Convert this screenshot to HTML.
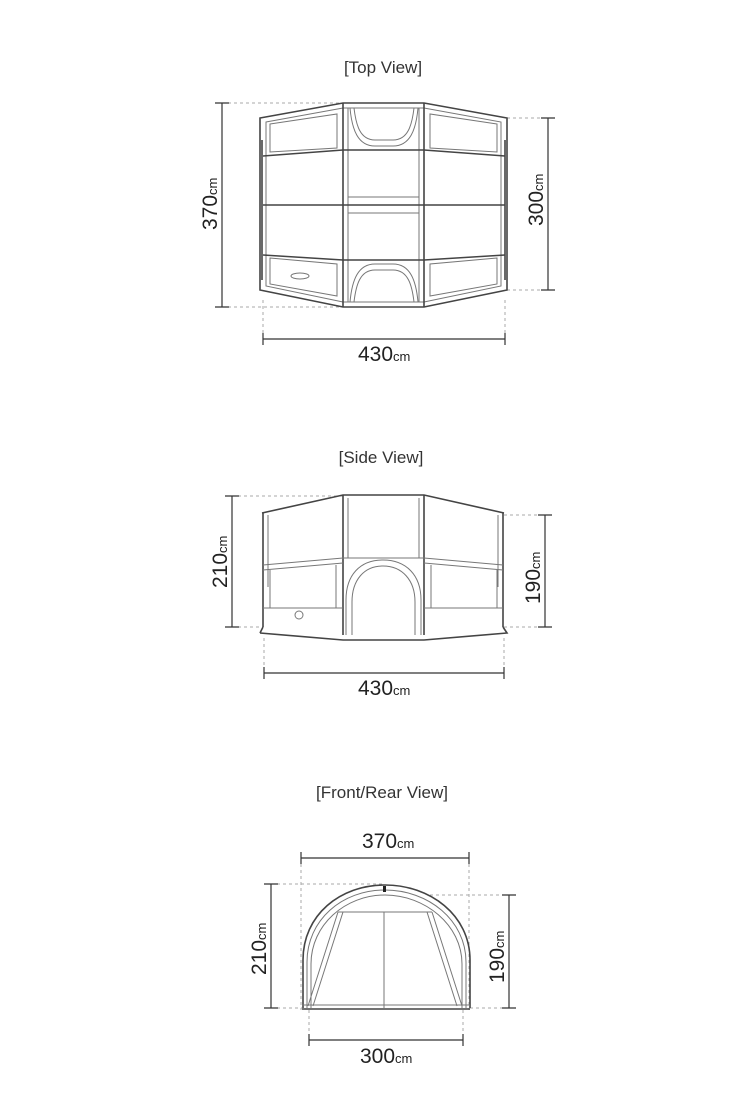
<!DOCTYPE html>
<html><head><meta charset="utf-8"><style>
html,body{margin:0;padding:0;background:#fff;}
svg{display:block}
text{font-family:"Liberation Sans",sans-serif;fill:#222}
.t{font-size:17px;fill:#333}
.n{font-size:21px}
.c{font-size:13px}
.d{stroke:#aaa;stroke-width:1;stroke-dasharray:3,3;fill:none}
.m{stroke:#333;stroke-width:1.2;fill:none}
.o{stroke:#444;stroke-width:1.6;fill:none}
.i{stroke:#777;stroke-width:1;fill:none}
</style></head><body>
<svg width="754" height="1100" viewBox="0 0 754 1100" xmlns="http://www.w3.org/2000/svg">
<!-- TOP VIEW -->
<text class="t" x="383" y="73" text-anchor="middle">[Top View]</text>
<line class="d" x1="222" y1="103" x2="343" y2="103"/>
<line class="d" x1="222" y1="307" x2="343" y2="307"/>
<line class="d" x1="507" y1="118" x2="555" y2="118"/>
<line class="d" x1="507" y1="290" x2="555" y2="290"/>
<line class="d" x1="263" y1="300" x2="263" y2="345"/>
<line class="d" x1="505" y1="300" x2="505" y2="345"/>
<path class="m" d="M215 103H229M222 103V307M215 307H229"/>
<path class="m" d="M541 118H555M548 118V290M541 290H555"/>
<path class="m" d="M263 333V345M263 339H505M505 333V345"/>
<text class="n" x="358" y="361">430<tspan class="c">cm</tspan></text>
<text class="n" transform="translate(217,230) rotate(-90)">370<tspan class="c">cm</tspan></text>
<text class="n" transform="translate(543,226) rotate(-90)">300<tspan class="c">cm</tspan></text>
<!-- tent top outline -->
<path class="o" d="M260 118 L343 103 H424 L507 118 V290 L424 307 H343 L260 290 Z"/>
<path class="i" d="M266 122 L343 108 H424 L501 122 V286 L424 302 H343 L266 286 Z"/>
<path class="o" d="M343 103V307M424 103V307"/>
<path class="i" d="M348 108V302M419 108V302"/>
<path class="o" d="M263 156 L343 150 H424 L505 156"/>
<path class="o" d="M263 205 H505"/>
<path class="o" d="M263 255 L343 260 H424 L505 255"/>
<path class="i" d="M348 197H419M348 213H419"/>
<path class="i" d="M270 124 L337 114 V148 L270 152 Z M497 124 L430 114 V148 L497 152 Z"/>
<path class="i" d="M270 258 L337 264 V296 L270 284 Z M497 258 L430 264 V296 L497 284 Z"/>
<path class="i" d="M354 108 C356 125 360 140 375 140 H393 C408 140 412 125 414 108"/>
<path class="i" d="M350 108 C352 130 358 146 375 146 H393 C410 146 416 130 418 108"/>
<path class="i" d="M354 302 C356 285 360 270 375 270 H393 C408 270 412 285 414 302"/>
<path class="i" d="M350 302 C352 280 358 264 375 264 H393 C410 264 416 280 418 302"/>
<ellipse class="i" cx="300" cy="276" rx="9" ry="3"/>
<path class="o" d="M262 140V280M505 140V280"/>
<!-- SIDE VIEW -->
<text class="t" x="381" y="463" text-anchor="middle">[Side View]</text>
<line class="d" x1="232" y1="496" x2="343" y2="496"/>
<line class="d" x1="232" y1="627" x2="262" y2="627"/>
<line class="d" x1="504" y1="515" x2="552" y2="515"/>
<line class="d" x1="504" y1="627" x2="552" y2="627"/>
<line class="d" x1="264" y1="638" x2="264" y2="680"/>
<line class="d" x1="504" y1="638" x2="504" y2="680"/>
<path class="m" d="M225 496H239M232 496V627M225 627H239"/>
<path class="m" d="M538 515H552M545 515V627M538 627H552"/>
<path class="m" d="M264 667V679M264 673H504M504 667V679"/>
<text class="n" x="358" y="695">430<tspan class="c">cm</tspan></text>
<text class="n" transform="translate(227,588) rotate(-90)">210<tspan class="c">cm</tspan></text>
<text class="n" transform="translate(540,604) rotate(-90)">190<tspan class="c">cm</tspan></text>
<path class="o" d="M262 513 L343 495 H424 L504 513"/>
<path class="o" d="M263 513V627M503 513V627M343 495V635M424 495V635"/>
<path class="i" d="M268 515V587M498 515V587M348 498V558M419 498V558"/>
<path class="i" d="M263 565 L343 558 H424 L503 565"/>
<path class="i" d="M263 570 L343 563M424 563 L503 570"/>
<path class="i" d="M263 608H343M424 608H503M270 570V608M336 565V608M431 565V608M497 570V608"/>
<path class="i" d="M346 635V600 C346 575 360 560 383 560 C406 560 421 575 421 600V635"/>
<path class="i" d="M352 635V602 C352 580 364 566 383 566 C402 566 415 580 415 602V635"/>
<path class="o" d="M260 633 L343 640 H424 L507 633 L503 627 M260 633 L263 627"/>
<circle class="i" cx="299" cy="615" r="4"/>
<!-- FRONT VIEW -->
<text class="t" x="382" y="798" text-anchor="middle">[Front/Rear View]</text>
<line class="d" x1="301" y1="852" x2="301" y2="1010"/>
<line class="d" x1="469" y1="852" x2="469" y2="1010"/>
<line class="d" x1="271" y1="884" x2="384" y2="884"/>
<line class="d" x1="271" y1="1008" x2="302" y2="1008"/>
<line class="d" x1="430" y1="895" x2="516" y2="895"/>
<line class="d" x1="470" y1="1008" x2="516" y2="1008"/>
<line class="d" x1="309" y1="1010" x2="309" y2="1046"/>
<line class="d" x1="463" y1="1010" x2="463" y2="1046"/>
<path class="m" d="M301 852V864M301 858H469M469 852V864"/>
<path class="m" d="M309 1034V1046M309 1040H463M463 1034V1046"/>
<path class="m" d="M264 884H278M271 884V1008M264 1008H278"/>
<path class="m" d="M502 895H516M509 895V1008M502 1008H516"/>
<text class="n" x="362" y="848">370<tspan class="c">cm</tspan></text>
<text class="n" x="360" y="1063">300<tspan class="c">cm</tspan></text>
<text class="n" transform="translate(266,975) rotate(-90)">210<tspan class="c">cm</tspan></text>
<text class="n" transform="translate(504,983) rotate(-90)">190<tspan class="c">cm</tspan></text>
<path class="o" d="M303 1008 V960 C303 915 340 885 385 885 C430 885 470 915 470 960 V1008"/>
<path class="i" d="M307 1008 V962 C307 920 342 890 385 890 C428 890 466 920 466 962 V1008"/>
<path class="i" d="M311 1008 V964 C311 925 345 895 385 895 C425 895 462 925 462 964 V1008"/>
<path class="i" d="M338 912 H432 M384 912 V1008 M338 912 L308 1006 M343 912 L313 1006 M432 912 L462 1006 M427 912 L457 1006"/>
<path class="o" d="M302 1009 H470"/>
<path class="i" d="M302 1005 H470"/>
<rect x="383" y="886" width="3" height="6" fill="#222"/>
</svg>
</body></html>
